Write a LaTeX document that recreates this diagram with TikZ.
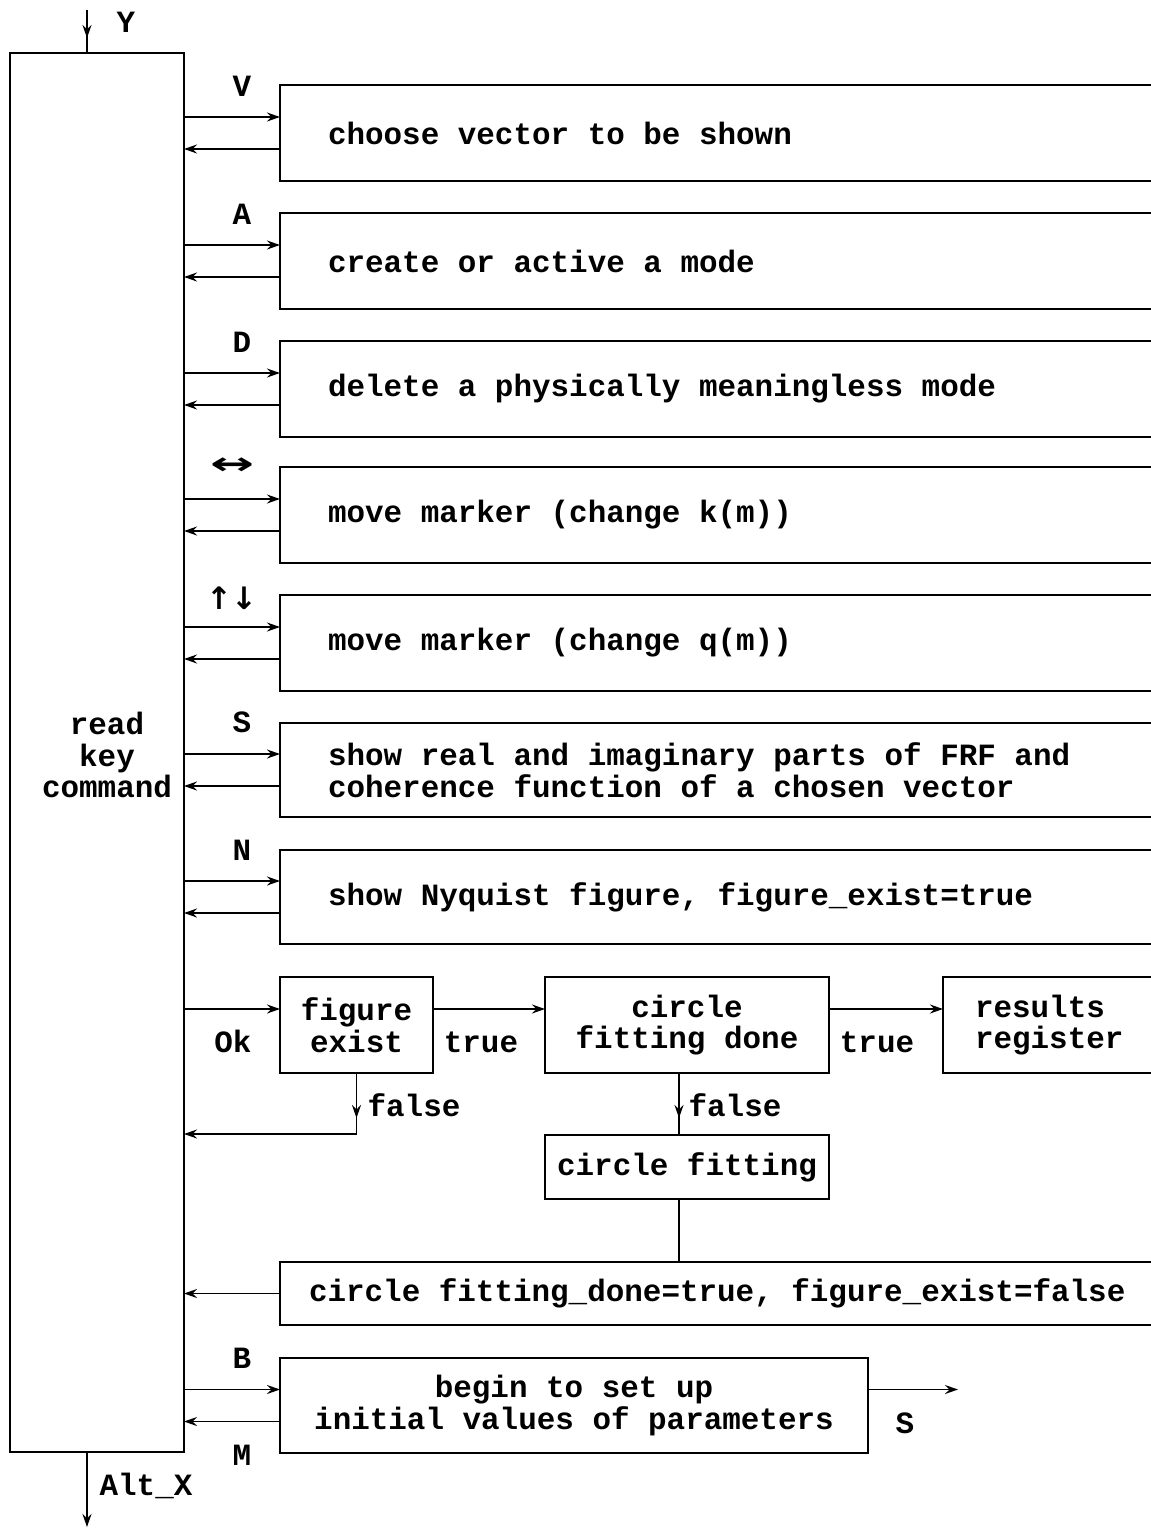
\documentclass[tikz,border=0pt]{standalone}
\usepackage{fontspec}
\newfontfamily\courfont{Liberation Mono}
\newfontfamily\arrfont{DejaVu Sans}
\usetikzlibrary{arrows.meta}
\tikzset{>={Stealth[length=2.6mm,width=1.8mm,inset=0.9mm]}}
\newcommand{\pxu}{0.02cm}
\tikzset{
  box/.style={draw, line width=1.1pt, inner sep=0pt, outer sep=0pt},
  wide/.style={box, anchor=north west, align=flush left, inner xsep=48*\pxu, text width=800*\pxu, minimum height=96*\pxu},
  ctr/.style={box, anchor=north west, align=center},
  flow/.style={line width=0.9pt}
}

\begin{document}
\begin{tikzpicture}[x=0.02cm, y=-0.02cm, font=\courfont\bfseries\fontsize{17.6}{18.1}\selectfont]
  \useasboundingbox (0,0) rectangle (1151,1529);
  \clip (0,0) rectangle (1151,1529);

  % Key reader
  \node[box, anchor=north west, minimum width=174*\pxu, minimum height=1399*\pxu] (key) at (10,53) {};
  \node[align=center] (keytxt) at (107,755) {read\\key\\command};
  \coordinate (yin) at (87,10);
  \draw[flow] (yin) -- (yin |- key.north);
  \draw[flow,->] (yin) -- ++(0,28);
  \node (lY) at (126,22) {Y};
  \coordinate (altx) at (87,1527);
  \draw[flow,->] (altx |- key.south) -- (altx);
  \node (lalt) at (146,1486) {Alt\_X};

  % Command boxes
  \node[wide] (vec) at (280,85) {choose vector to be shown};
  \node[wide] (mode) at (280,213) {create or active a mode};
  \node[wide] (del) at (280,341) {delete a physically meaningless mode};
  \node[wide] (kmk) at (280,467) {move marker (change k(m))};
  \node[wide] (qmk) at (280,595) {move marker (change q(m))};
  \node[wide, minimum height=94*\pxu] (frf) at (280,723) {show real and imaginary parts of FRF and\\coherence function of a chosen vector};
  \node[wide, minimum height=94*\pxu] (nyq) at (280,850) {show Nyquist figure, figure\_exist=true};
  \node[ctr, minimum width=588*\pxu, minimum height=95*\pxu] (init) at (280,1358) {begin to set up\\initial values of parameters};

  \foreach \b in {vec,mode,del,kmk,qmk,frf,nyq,init} {
    \path ([yshift=16*\pxu]\b.west) coordinate (go) ([yshift=-16*\pxu]\b.west) coordinate (back);
    \draw[flow,->] (key.east |- go) -- (go);
    \draw[flow,->] (back) -- (key.east |- back);
  }

  \node (lV) at (242,86) {V};
  \node (lA) at (242,214) {A};
  \node (lD) at (242,342) {D};
  \node (lk) at (233,466) {\arrfont\bfseries\scalebox{1.7}[1]{↔}};
  \node (lq) at (232,598) {\arrfont\bfseries ↑\kern-0.05em↓};
  \node (lS) at (242,722) {S};
  \node (lN) at (242,850) {N};
  \node (lB) at (242,1358) {B};
  \node (lM) at (242,1455) {M};

  \coordinate (sout) at ([xshift=90*\pxu, yshift=16*\pxu]init.east);
  \draw[flow,->] ([yshift=16*\pxu]init.east) -- (sout);
  \node (lS2) at (905,1423) {S};

  % Ok: circle fitting
  \node[ctr, minimum width=153*\pxu, minimum height=96*\pxu] (fex) at (280,977) {figure\\exist};
  \node[ctr, minimum width=284*\pxu, minimum height=96*\pxu] (cfd) at (545,977) {circle\\fitting done};
  \node[box, anchor=north west, align=flush left, inner xsep=32*\pxu, text width=300*\pxu, minimum height=96*\pxu] (res) at (943,977) {results\\register};
  \node[ctr, minimum width=284*\pxu, minimum height=64*\pxu] (cfit) at (545,1135) {circle fitting};
  \node[box, anchor=north west, align=flush left, inner xsep=29*\pxu, text width=900*\pxu, minimum height=63*\pxu] (cfdt) at (280,1262) {circle fitting\_done=true, figure\_exist=false};

  \path ([yshift=16*\pxu]fex.west) coordinate (ok);
  \draw[flow,->] (key.east |- ok) -- (ok);
  \draw[flow,->] ([yshift=16*\pxu]fex.east) -- ([yshift=16*\pxu]cfd.west);
  \draw[flow,->] ([yshift=16*\pxu]cfd.east) -- ([yshift=16*\pxu]res.west);
  \node (lOk) at (233,1041) {Ok};
  \node (lt1) at (481,1042) {true};
  \node (lt2) at (877,1042) {true};

  \coordinate (fexback) at (fex.south |- 0,1134);
  \draw[flow] (fex.south) -- (fexback);
  \draw[flow,->] (fex.south) -- ++(0,45);
  \draw[flow,->] (fexback) -- (key.east |- fexback);
  \node (lf1) at (414,1105) {false};

  \coordinate (cfdf) at ([xshift=-8*\pxu]cfd.south);
  \draw[flow] (cfdf) -- (cfdf |- cfit.north);
  \draw[flow,->] (cfdf) -- ++(0,45);
  \draw[flow] (cfdf |- cfit.south) -- (cfdf |- cfdt.north);
  \draw[flow,->] (cfdt.west) -- (key.east |- cfdt.west);
  \node (lf2) at (735,1105) {false};
\end{tikzpicture}
\end{document}
